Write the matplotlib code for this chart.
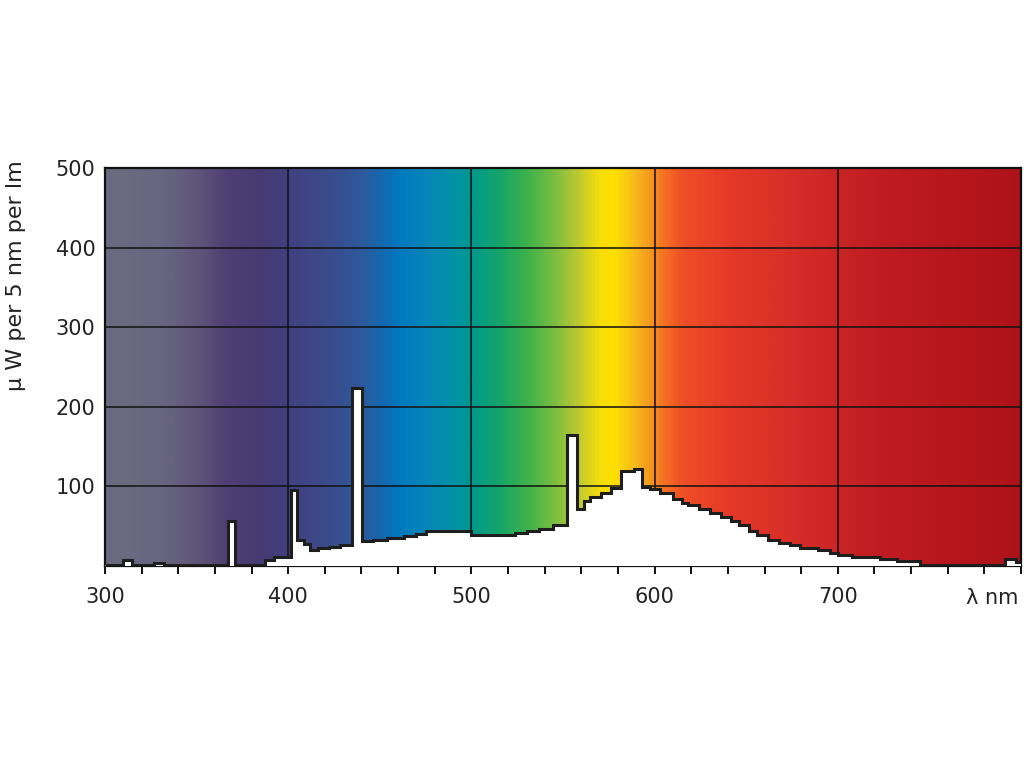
#!/usr/bin/env python3
"""
Spectral power distribution of a fluorescent lamp, drawn as 5 nm steps
over a visible-spectrum colour band.
"""
import matplotlib
matplotlib.use("Agg")
import matplotlib.pyplot as plt
import numpy as np
from matplotlib.colors import LinearSegmentedColormap
from matplotlib.ticker import MultipleLocator

# step edges (nm) and power per step (µW per 5 nm per lm)
edges = [300, 310, 315, 327, 332, 367, 371, 387.5, 392, 401.5,
         405, 408.5, 412, 416, 422, 428.5, 435, 440.5, 446.5, 454,
         463, 469.5, 475, 500, 524, 530.5, 537, 544.5, 552, 557.5,
         561.5, 565, 571, 576, 581.5, 588.5, 593, 597.5, 603, 610,
         615, 618.5, 624, 630.5, 636, 641.5, 646, 651.5, 656, 662,
         668, 674, 679.5, 689, 696, 700, 708, 723, 732.5, 745,
         791.5, 797, 800]
power = [1.2, 7, 1.2, 4, 1.2, 56, 1.2, 7, 11,
         95, 33, 28, 20, 22, 24, 26.5, 223, 31, 33,
         35, 37.5, 40, 43.5, 38.5, 41, 43.5, 47, 51, 165,
         71, 81.5, 86.5, 92, 97.5, 119, 122, 99, 97, 92,
         84.5, 79.5, 77, 72, 67, 61, 56.5, 51, 44, 38.5,
         32.7, 29.4, 26.5, 23, 19.5, 15.8, 14, 11.4, 8.5, 6.4,
         1.2, 8.5, 5]

x_major = [300, 400, 500, 600, 700, 800]
x_labels = ["300", "400", "500", "600", "700", ""]
y_major = [100, 200, 300, 400, 500]

# colour band anchors (nm, colour)
band_nm = [300, 330, 350, 365, 385, 400, 425, 440, 450, 460, 475, 490,
           500, 515, 530, 545, 558, 570, 578, 588, 597, 605, 615, 640,
           680, 720, 800]
band_col = ["#6a6b80", "#686680", "#5f5479", "#4f3f73", "#463a74", "#41407f",
            "#394d8e", "#2d5a9c", "#1568ae", "#0078c0", "#0786b8", "#0092a6",
            "#00998e", "#16a46a", "#3cb24c", "#78bd40", "#bcc932", "#f5dc0c",
            "#ffe000", "#f9c01a", "#f59a20", "#f37422", "#ef5026", "#e53a28",
            "#d42c28", "#c11d22", "#ae1219"]


def main():
    fig = plt.figure(figsize=(10.24, 7.68), dpi=100)
    ax = fig.add_axes([105 / 1024, 1 - 566 / 768, 916 / 1024, 398 / 768])

    lo, hi = band_nm[0], band_nm[-1]
    cmap = LinearSegmentedColormap.from_list(
        "spectrum", [((w - lo) / (hi - lo), c) for w, c in zip(band_nm, band_col)])
    ax.imshow(np.linspace(lo, hi, 1000)[None, :], extent=(lo, hi, 0, 500),
              aspect="auto", cmap=cmap, vmin=lo, vmax=hi, zorder=0,
              interpolation="bilinear")

    ax.stairs(power, edges, baseline=0, fill=True, color="white", zorder=3)
    ax.stairs(power, edges, baseline=None, color="#1e1e1e", lw=2.2, zorder=4)

    ax.set_xlim(300, 800)
    ax.set_ylim(0, 500)
    ax.set_axisbelow("line")
    ax.grid(True, which="major", color="#111111", lw=1.1)

    ax.set_xticks(x_major)
    ax.set_xticklabels(x_labels, fontsize=15, color="#222222")
    ax.xaxis.set_minor_locator(MultipleLocator(20))
    ax.tick_params(axis="x", which="both", direction="out", length=6,
                   width=1.4, color="#111111", pad=9)
    ax.set_yticks(y_major)
    ax.set_yticklabels([str(v) for v in y_major], fontsize=15, color="#222222")
    ax.tick_params(axis="y", length=0, pad=7)

    for sp in ax.spines.values():
        sp.set_color("#111111")
        sp.set_linewidth(1.6)

    ax.annotate("λ nm", xy=(784, 0), xycoords=("data", "axes fraction"),
                xytext=(0, -23), textcoords="offset points",
                ha="center", va="center", fontsize=15, color="#222222")
    fig.text(16 / 1024, 1 - 160 / 768, "μ W per 5 nm per lm", rotation=90,
             ha="center", va="top", fontsize=16, color="#222222")

    fig.savefig("out.png", dpi=100)
    plt.close(fig)


if __name__ == "__main__":
    main()
